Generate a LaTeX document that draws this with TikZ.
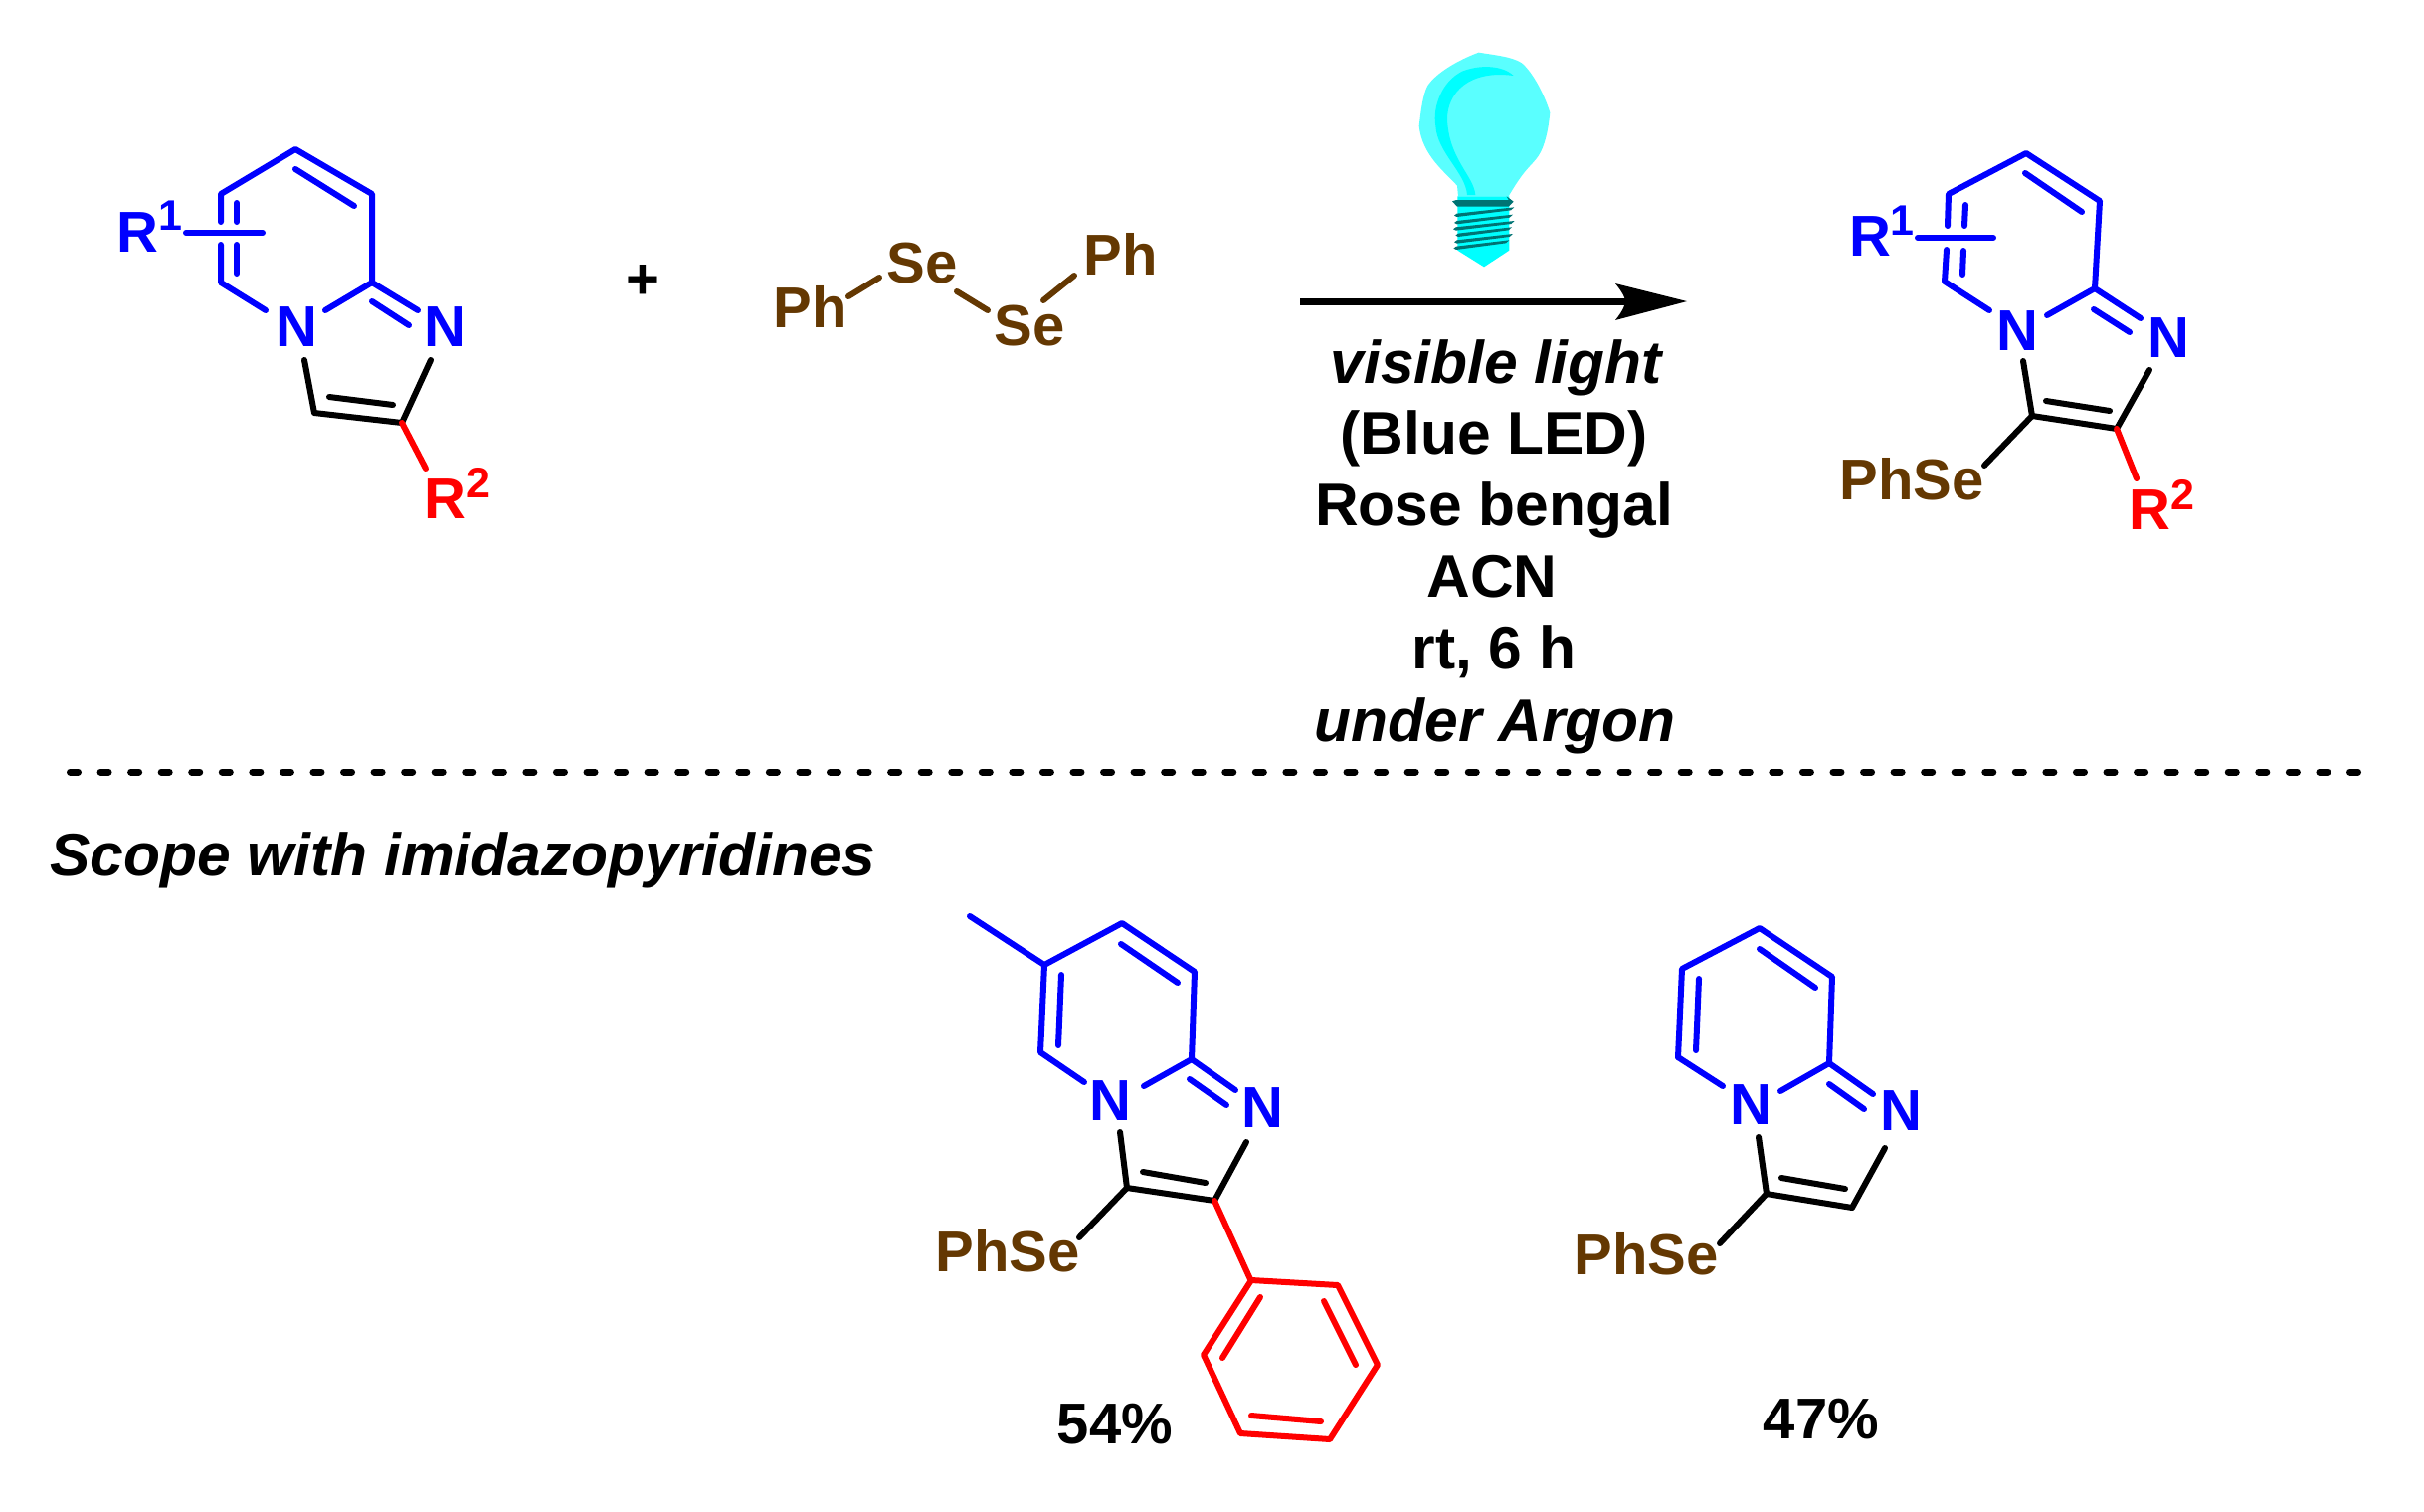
\documentclass[tikz,border=0pt]{standalone}
\usepackage{fontspec}
\setmainfont{Liberation Sans}
\usetikzlibrary{arrows.meta}
\definecolor{brn}{RGB}{100,56,2}
\definecolor{bl}{RGB}{0,0,255}
\definecolor{rd}{RGB}{255,0,0}
\definecolor{cy}{RGB}{90,255,255}
\definecolor{cyd}{RGB}{0,255,255}
\definecolor{scr}{RGB}{0,115,115}
\tikzset{x=1pt,y=-1pt,
 bnd/.style={line width=6pt,line cap=round,line join=round},
 blb/.style={bnd,bl}, blk/.style={bnd,black}, rdb/.style={bnd,rd}, brb/.style={bnd,brn},
 lab/.style={font=\fontsize{58}{60}\bfseries\selectfont,inner sep=0pt,anchor=center},
 sups/.style={font=\fontsize{43}{45}\bfseries\selectfont,inner sep=0pt,anchor=center},
 cond/.style={font=\fontsize{60.5}{62}\bfseries\selectfont,inner sep=0pt,anchor=base},
 condi/.style={font=\fontsize{60.5}{62}\bfseries\itshape\selectfont,inner sep=0pt,anchor=base}}
\begin{document}
\begin{tikzpicture}
\useasboundingbox (0,0) rectangle (2437,1519);
% Left reactant
\draw[blb] (222,223)--(222,195)--(297,150)--(374,195)--(374,284);
\draw[blb] (222,246)--(222,284)--(267,312);
\draw[blb] (238,204)--(238,223);
\draw[blb] (238,246)--(238,275);
\draw[blb] (297,170)--(356,207);
\draw[blb] (374,284)--(327,312);
\draw[blb] (374,284)--(420,312);
\draw[blb] (374,303)--(411,327);
\draw[blb] (187,234)--(264,234);
\node[lab,text=bl] (aN) at (298,329) {N};
\node[lab,text=bl] (aN2) at (447,329) {N};
\draw[blk] (306,362)--(316,415)--(404,425)--(433,362);
\draw[blk] (331,399)--(395,407);
\draw[rdb] (404,425)--(428,471);
\node[lab,text=bl] (aR) at (138,234) {R};
\node[sups,text=bl] (aR1) at (171,217) {1};
\node[lab,text=rd] (bR) at (447,502) {R};
\node[sups,text=rd] (bR2) at (481,485) {2};
% plus
\node[lab] (plus) at (646,283) {+};
% PhSeSePh
\node[lab,text=brn] (p1) at (815,308) {Ph};
\node[lab,text=brn] (s1) at (927,265) {Se};
\node[lab,text=brn] (s2) at (1035,328) {Se};
\node[lab,text=brn] (p2) at (1127,255) {Ph};
\draw[brb] (853,298)--(884,279);
\draw[brb] (962,293)--(993,312);
\draw[brb] (1049,302)--(1080,277);
% bulb
\begin{scope}[shift={(1280,20)},x=1/3*1pt,y=-1/3*1pt]
\fill[cy] (620,98) .. controls (660,105) and (720,110) .. (750,130)
 .. controls (785,160) and (820,230) .. (835,280)
 .. controls (830,330) and (820,380) .. (800,410)
 .. controls (780,440) and (760,445) .. (710,532)
 -- (558,532) -- (555,500)
 .. controls (520,460) and (450,410) .. (440,320)
 .. controls (445,280) and (450,230) .. (465,200)
 .. controls (490,160) and (560,120) .. (620,98) -- cycle;
\fill[cyd] (725,168) .. controls (690,135) and (620,135) .. (570,155)
 .. controls (510,185) and (480,260) .. (490,320)
 .. controls (495,400) and (580,460) .. (585,528) -- (610,528)
 .. controls (605,470) and (530,420) .. (525,300)
 .. controls (525,220) and (590,150) .. (725,168) -- cycle;
\fill[cyd] (556,532) -- (712,532) -- (712,695) -- (636,745) -- (556,695) -- cycle;
\fill[scr] (540,547) -- (552,543) -- (710,543) -- (704,532) -- (725,548) -- (710,563) -- (555,563) -- cycle;
\foreach \yy/\xa/\xb in {590/546/727,612/546/723,631/543/728,650/550/720,670/546/723,689/544/712}
  \fill[scr] (\xa,\yy) -- (\xa+8,\yy-6) -- (\xb,\yy-25) -- (\xb-10,\yy-16) -- (\xa+8,\yy+4) -- cycle;
\end{scope}
% arrow
\coordinate (arS) at (1307,303);\coordinate (arE) at (1696,303);
\draw[black,line width=7pt] (arS)--(1640,303);
\fill[black] (arE) -- (1624,285) .. controls (1632,295) and (1634,300) .. (1634,303) .. controls (1634,306) and (1632,312) .. (1624,322) -- cycle;
\node[condi] (c1) at (1504,385) {visible light};
\node[cond] (c2) at (1502,456) {(Blue LED)};
\node[cond] (c3) at (1502,528) {Rose bengal};
\node[cond] (c4) at (1500,600) {ACN};
\node[cond] (c5) at (1502,672) {rt, 6 h};
\node[condi] (c6) at (1503,745) {under Argon};
% dash
\coordinate (dS) at (70.5,776);\coordinate (dE) at (2370.5,776);
\draw[black,line width=7pt,line cap=round,dash pattern=on 8pt off 22.56pt] (dS)--(dE);
\node[condi,anchor=base west] (sc) at (50,880) {Scope with imidazopyridines};
% Product top
\draw[blb] (1958,227)--(1959,195)--(2037,154)--(2111,202)--(2106,290);
\draw[blb] (1957,251)--(1955,283)--(2000,312);
\draw[blb] (1976,206)--(1975,227);
\draw[blb] (1974,252)--(1973,276);
\draw[blb] (2036,174)--(2093,213);
\draw[blb] (2106,290)--(2058,317);
\draw[blb] (2106,290)--(2152,320);
\draw[blb] (2105,311)--(2141,334);
\draw[blb] (1928,239)--(2004,239);
\node[lab,text=bl] (tN) at (2028,333) {N};
\node[lab,text=bl] (tN2) at (2180,340) {N};
\draw[blk] (2034,363)--(2043,418)--(2128,431)--(2161,372);
\draw[blk] (2057,403)--(2121,413);
\draw[rdb] (2128,431)--(2148,481);
\draw[blk] (2043,418)--(1995,468);
\node[lab,text=brn] (tP) at (1922,482) {PhSe};
\node[lab,text=bl] (tR) at (1880,238) {R};
\node[sups,text=bl] (tR1) at (1912,222) {1};
\node[lab,text=rd] (tR2) at (2161,513) {R};
\node[sups,text=rd] (tR22) at (2194,497) {2};
% Product 1
\draw[blb] (975,921)--(1050,970)--(1128,928)--(1201,977)--(1198,1065);
\draw[blb] (1050,970)--(1046,1058)--(1090,1088);
\draw[blb] (1067,980)--(1064,1051);
\draw[blb] (1127,949)--(1184,988);
\draw[blb] (1198,1065)--(1150,1092);
\draw[blb] (1198,1065)--(1242,1096);
\draw[blb] (1196,1085)--(1233,1111);
\node[lab,text=bl] (uN) at (1116,1107) {N};
\node[lab,text=bl] (uN2) at (1269,1114) {N};
\draw[blk] (1126,1138)--(1133,1194)--(1221,1207)--(1253,1148);
\draw[blk] (1149,1178)--(1212,1189);
\draw[blk] (1133,1194)--(1085,1244);
\draw[rdb] (1221,1207)--(1257,1286);
\node[lab,text=brn] (uP) at (1013,1258) {PhSe};
\draw[rdb] (1258,1287)--(1345,1292)--(1385,1372)--(1337,1447)--(1247,1441)--(1210,1362)--cycle;
\draw[rdb] (1267,1304)--(1229,1365);
\draw[rdb] (1331,1308)--(1363,1372);
\draw[rdb] (1258,1423)--(1328,1429);
\node[lab] (y1) at (1121,1432) {54\%};
% Product 2
\draw[blb] (1687,1063)--(1691,974)--(1769,933)--(1842,982)--(1839,1069);
\draw[blb] (1687,1063)--(1732,1092);
\draw[blb] (1708,984)--(1705,1056);
\draw[blb] (1769,954)--(1825,993);
\draw[blb] (1839,1069)--(1790,1097);
\draw[blb] (1839,1069)--(1883,1100);
\draw[blb] (1839,1090)--(1874,1115);
\node[lab,text=bl] (vN) at (1760,1111) {N};
\node[lab,text=bl] (vN2) at (1911,1117) {N};
\draw[blk] (1768,1143)--(1776,1200)--(1862,1214)--(1895,1154);
\draw[blk] (1791,1184)--(1855,1195);
\draw[blk] (1776,1200)--(1729,1250);
\node[lab,text=brn] (vP) at (1655,1261) {PhSe};
\node[lab] (y2) at (1831,1427) {47\%};
\end{tikzpicture}
\end{document}
